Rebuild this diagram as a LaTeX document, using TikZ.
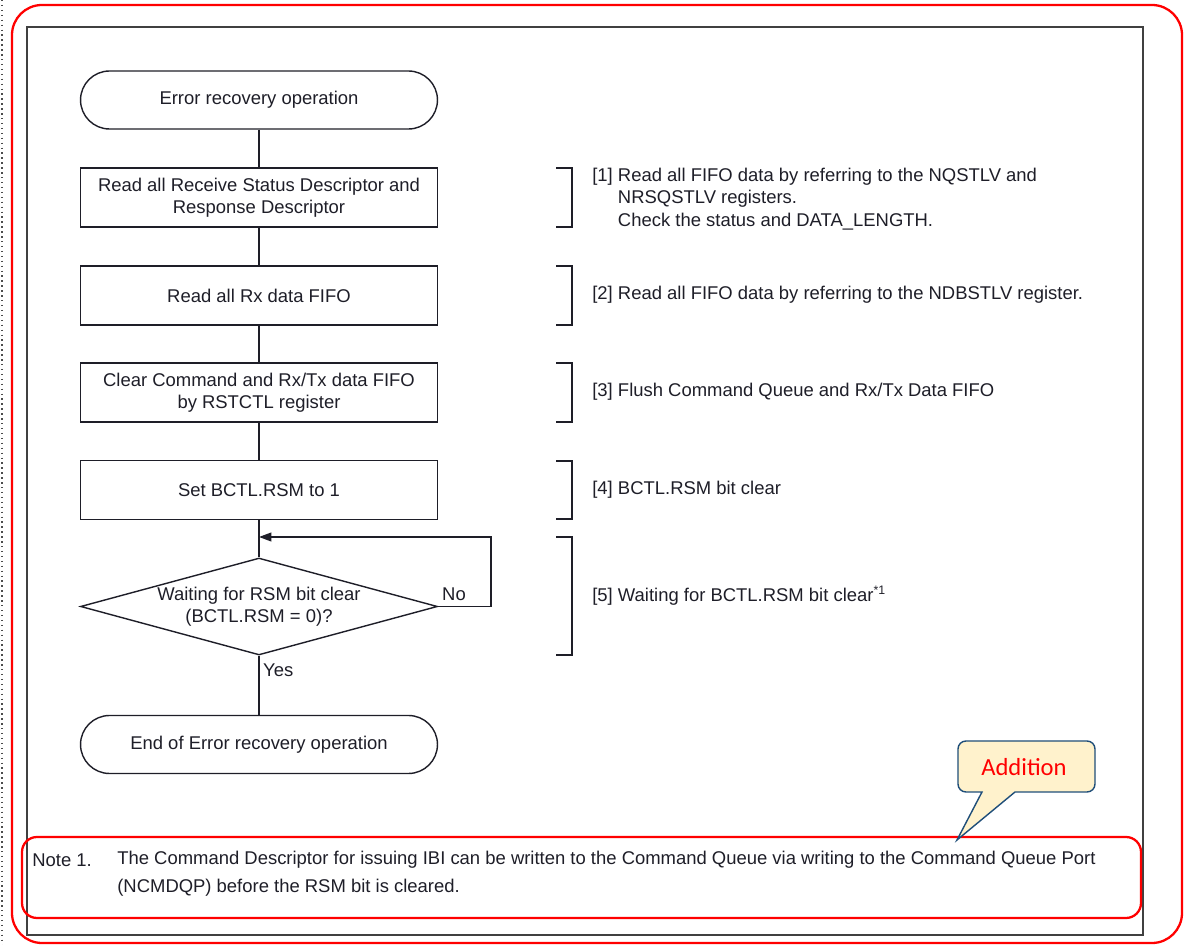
\documentclass[tikz,border=0pt]{standalone}
\usepackage{fontspec}
\setmainfont{Liberation Sans}
\newfontfamily\callfont{Carlito}
\usetikzlibrary{shapes.geometric,arrows.meta}
\definecolor{ink}{HTML}{1E1E28}
\definecolor{frame}{HTML}{404040}
\definecolor{callfill}{HTML}{FFF2CC}
\definecolor{calledge}{HTML}{1F4E79}
\tikzset{
  every node/.style={text=ink, font=\fontsize{10.5}{12.8}\selectfont},
  flowline/.style={draw=ink, line width=0.8pt},
  procbox/.style={flowline, rectangle, minimum width=7.14cm, minimum height=1.18cm, align=center},
  termbox/.style={procbox, rounded corners=0.58cm, minimum height=1.16cm},
  askbox/.style={flowline, diamond, shape aspect=3.7, inner sep=0pt, minimum width=7.14cm, minimum height=1.94cm, align=center},
  redframe/.style={draw=red, line width=1.3pt},
}
\begin{document}
\begin{tikzpicture}[x=0.02cm, y=-0.02cm]
\useasboundingbox (0,0) rectangle (1188,945);
% page edge and frames
\draw[black!70, dotted, line width=0.8pt] (2,0) -- (2,945);
\draw[redframe, rounded corners=0.6cm] (12,5) rectangle (1182,943);
\draw[frame, line width=1.2pt] (27,27) rectangle (1143,935);

% flow chart
\node[termbox] (start) at (259,100) {Error recovery operation};
\node[procbox] (rdesc) at (259,197.5) {Read all Receive Status Descriptor and\\Response Descriptor};
\node[procbox] (rxfifo) at (259,295.5) {Read all Rx data FIFO};
\node[procbox] (clrfifo) at (259,392.5) {Clear Command and Rx/Tx data FIFO\\by RSTCTL register};
\node[procbox] (setrsm) at (259,490) {Set BCTL.RSM to 1};
\node[askbox] (waitrsm) at (259,606.5) {Waiting for RSM bit clear\\(BCTL.RSM = 0)?};
\node[termbox] (finish) at (259,744.5) {End of Error recovery operation};
\coordinate (loopin) at (259,537);

\draw[flowline] (start) -- (rdesc);
\draw[flowline] (rdesc) -- (rxfifo);
\draw[flowline] (rxfifo) -- (clrfifo);
\draw[flowline] (clrfifo) -- (setrsm);
\draw[flowline] (setrsm) -- (waitrsm);
\draw[flowline] (waitrsm) -- (finish);
\draw[flowline, -{Triangle[length=7pt,width=5pt]}] (waitrsm.east) -- ++(53,0) |- (loopin); %retry
\node[anchor=west] (nolbl) at (436,594) {No};
\node[anchor=west] (yeslbl) at (257,670) {Yes};

% step brackets on the right
\foreach \ya/\yb in {168/227,266/325,363/422,461/519,537/655}{
  \draw[ink, line width=0.8pt] (556,\ya) -- (572,\ya) -- (572,\yb) -- (556,\yb);
}
\node[anchor=north west, inner sep=0pt] (step1) at (592,165) {%
  \begin{tabular}{@{}l@{\ }l@{}}
  [1] & Read all FIFO data by referring to the NQSTLV and\\
      & NRSQSTLV registers.\\
      & Check the status and DATA\_LENGTH.
  \end{tabular}};
\node[anchor=west, inner sep=0pt] (step2) at (592,295) {[2] Read all FIFO data by referring to the NDBSTLV register.};
\node[anchor=west, inner sep=0pt] (step3) at (592,392) {[3] Flush Command Queue and Rx/Tx Data FIFO};
\node[anchor=west, inner sep=0pt] (step4) at (592,490) {[4] BCTL.RSM bit clear};
\node[anchor=west, inner sep=0pt] (step5) at (592,596) {[5] Waiting for BCTL.RSM bit clear\textsuperscript{\scriptsize *1}};

% note at the bottom
\draw[redframe, rounded corners=0.3cm] (22,837) rectangle (1141,918);
\node[anchor=west, inner sep=0pt] (notelbl) at (32,860) {Note 1.};
\node[anchor=north west, inner sep=0pt, align=left, font=\fontsize{10.5}{15.6}\selectfont] (notetxt) at (117,851)
  {The Command Descriptor for issuing IBI can be written to the Command Queue via writing to the Command Queue Port\\(NCMDQP) before the RSM bit is cleared.};

% callout
\draw[draw=calledge, fill=callfill, line width=0.8pt] (982,792) [rounded corners=0.16cm] -- (958,792) -- (958,741) -- (1095,741) -- (1095,792) [sharp corners] -- (1015,792) -- (957,840) -- cycle;
\node[font=\callfont\fontsize{14}{16}\selectfont, text=red] (addlbl) at (1024,767) {Addition};
\end{tikzpicture}
\end{document}
